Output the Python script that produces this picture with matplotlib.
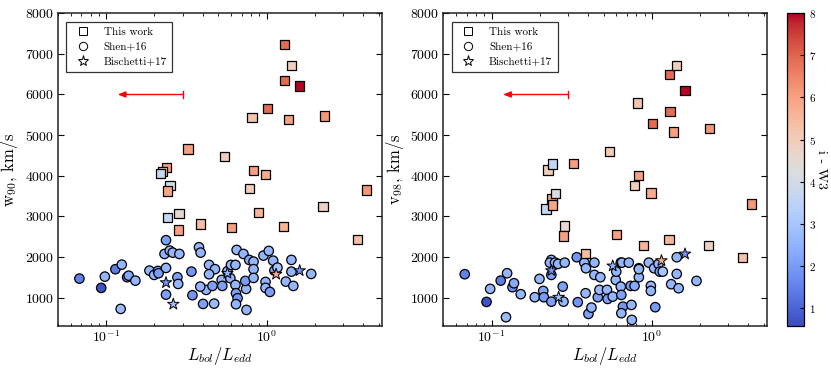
import matplotlib
matplotlib.use('Agg')
import matplotlib.pyplot as plt
from matplotlib.lines import Line2D

plt.rcParams['font.family'] = 'serif'
plt.rcParams['font.serif'] = ['cmr10']
plt.rcParams['mathtext.fontset'] = 'cm'
plt.rcParams['axes.unicode_minus'] = False
plt.rcParams['axes.formatter.use_mathtext'] = True

# This work (squares): L_bol/L_edd, w90, v98, i-W3
sq_x = [1.29, 1.43, 1.30, 1.61, 1.01, 0.81, 1.37, 2.30, 0.324, 0.546, 0.238, 0.225, 0.219, 0.826,
        0.986, 0.250, 0.78, 4.2, 0.240, 0.240, 0.285, 0.281, 0.386, 0.891, 2.25, 0.603, 1.28, 3.69]
sq_w90 = [7226, 6710, 6340, 6210, 5651, 5430, 5380, 5472, 4660, 4480, 4200, 4100, 4060, 4135,
          4027, 3756, 3692, 3650, 3626, 2978, 3077, 2666, 2814, 3101, 3240, 2723, 2747, 2437]
sq_v98 = [6498, 6710, 5587, 6094, 5282, 5791, 5078, 5159, 4298, 4603, 3446, 4143, 3183, 4002,
          3577, 3569, 3756, 3306, 3281, 4290, 2765, 2518, 2083, 2280, 2280, 2550, 2437, 1984]
sq_c = [6.9, 4.9, 6.9, 8.0, 6.9, 5.2, 6.0, 6.2, 6.0, 5.0, 6.1, 5.0, 3.7, 6.0,
        5.8, 4.1, 5.0, 6.2, 5.9, 3.7, 4.6, 6.0, 5.4, 5.6, 4.8, 6.0, 5.6, 5.3]

# Shen+16 (circles)
sh_x = [0.068, 0.093, 0.098, 0.114, 0.125, 0.123, 0.135, 0.138, 0.152, 0.186, 0.199, 0.210, 0.212,
        0.236, 0.236, 0.231, 0.249, 0.260, 0.286, 0.278, 0.281, 0.236, 0.340, 0.345, 0.379, 0.388,
        0.402, 0.420, 0.386, 0.438, 0.477, 0.438, 0.460, 0.471, 0.525, 0.530, 0.595, 0.570, 0.600,
        0.640, 0.651, 0.718, 0.640, 0.645, 0.660, 0.645, 0.750, 0.746, 0.737, 0.780, 0.830, 0.830,
        0.830, 0.957, 0.986, 0.986, 1.033, 1.05, 1.10, 1.12, 1.17, 1.32, 1.43, 1.43, 1.47, 1.90]
sh_w90 = [1468, 1239, 1517, 1699, 1812, 722, 1502, 1540, 1418, 1664, 1559, 1657, 1600,
          1731, 2413, 2075, 2157, 2107, 2075, 1502, 1337, 1074, 1640, 1059, 2240, 2107,
          845, 1190, 1271, 1805, 1700, 1576, 1288, 852, 1435, 1288, 1477, 1650, 1805,
          1805, 2174, 2075, 1312, 1108, 985, 838, 697, 1214, 1411, 1928, 1886, 1700,
          1485, 2034, 1386, 1240, 2149, 1140, 1910, 1664, 1738, 1394, 1928, 1640, 1288, 1583]
sh_v98 = [1576, 894, 1214, 1418, 1600, 518, 1256, 1354, 1084, 1010, 1460, 1165, 1010,
          1928, 1559, 1861, 1861, 1830, 1861, 1271, 900, 900, 1994, 887, 1861, 1723,
          599, 754, 1108, 1559, 1502, 1861, 1010, 1190, 1190, 968, 1435, 1025, 1640,
          1861, 1861, 1861, 1271, 1066, 778, 616, 451, 820, 1288, 1288, 1723, 1502,
          1700, 1861, 1288, 1165, 1723, 764, 1829, 1640, 1640, 1330, 1994, 1583, 1231, 1411]
sh_c = [1.5, 0.7, 2.6, 1.4, 2.6, 2.7, 1.8, 2.3, 2.6, 2.6, 2.6, 2.2, 2.0,
        2.6, 2.1, 2.5, 2.6, 2.6, 2.6, 2.1, 2.6, 2.1, 1.9, 1.9, 2.6, 2.6,
        2.1, 2.6, 2.6, 2.6, 2.6, 2.6, 2.1, 2.7, 2.6, 2.1, 2.6, 2.6, 2.6,
        2.6, 2.6, 2.6, 2.6, 2.1, 1.9, 2.6, 2.6, 2.6, 2.0, 2.3, 2.6, 2.6,
        2.6, 2.6, 2.6, 2.6, 2.6, 2.0, 2.6, 2.2, 3.0, 2.6, 2.6, 2.6, 2.6, 2.6]

# Bischetti+17 (stars)
st_x = [0.236, 0.262, 0.57, 1.148, 1.61]
st_w90 = [1369, 838, 1600, 1576, 1664]
st_v98 = [1664, 1010, 1780, 1910, 2075]
st_c = [1.9, 2.8, 2.6, 5.8, 1.9]

vmin, vmax = 0.57, 8.0
cmap = 'coolwarm'

fig = plt.figure(figsize=(8.31, 3.68), dpi=100)
ax1 = fig.add_axes([0.0698, 0.114, 0.3898, 0.850])
ax2 = fig.add_axes([0.5335, 0.114, 0.3898, 0.850])
cax = fig.add_axes([0.947, 0.114, 0.0205, 0.850])

panels = [(ax1, sh_w90, st_w90, sq_w90, r'w$_{90}$, km/s'),
          (ax2, sh_v98, st_v98, sq_v98, r'v$_{98}$, km/s')]

for ax, ysh, yst, ysq, ylab in panels:
    ax.scatter(sh_x, ysh, c=sh_c, cmap=cmap, vmin=vmin, vmax=vmax, marker='o', s=46,
               edgecolors='k', linewidths=0.9, zorder=3)
    ax.scatter(st_x, yst, c=st_c, cmap=cmap, vmin=vmin, vmax=vmax, marker='*', s=75,
               edgecolors='k', linewidths=0.7, zorder=4)
    sc = ax.scatter(sq_x, ysq, c=sq_c, cmap=cmap, vmin=vmin, vmax=vmax, marker='s', s=45,
                    edgecolors='k', linewidths=0.9, zorder=5)
    # upper limit arrow
    ax.annotate('', xy=(0.118, 6000), xytext=(0.3, 6000),
                arrowprops=dict(arrowstyle='-|>,head_length=0.45,head_width=0.18',
                                color='red', lw=1.0, shrinkA=0, shrinkB=0))
    ax.plot([0.3, 0.3], [5920, 6080], color='red', lw=1.0)

    ax.set_xscale('log')
    ax.set_xlim(0.05, 5.25)
    ax.set_ylim(300, 8000)
    ax.set_yticks([1000, 2000, 3000, 4000, 5000, 6000, 7000, 8000])
    ax.tick_params(which='both', direction='in', top=True, right=True, labelsize=10, pad=3)
    ax.tick_params(axis='x', pad=2.5)
    ax.tick_params(which='major', length=4, width=0.8)
    ax.tick_params(which='minor', length=2, width=0.6)
    for sp in ax.spines.values():
        sp.set_linewidth(1.1)
        sp.set_color('#222222')
    ax.set_xlabel(r'$L_{bol}/L_{edd}$', fontsize=12, labelpad=0)
    ax.set_ylabel(ylab, fontsize=12, labelpad=3)

    handles = [Line2D([], [], marker='s', ls='none', mfc='white', mec='k', ms=5.5, mew=0.7),
               Line2D([], [], marker='o', ls='none', mfc='white', mec='k', ms=6, mew=0.7),
               Line2D([], [], marker='*', ls='none', mfc='white', mec='k', ms=8, mew=0.7)]
    leg = ax.legend(handles, ['This work', 'Shen+16', 'Bischetti+17'], loc='upper left',
                    fontsize=8, frameon=True, fancybox=False, handlelength=2.0,
                    handletextpad=0.85, borderpad=0.5, labelspacing=0.45, borderaxespad=0.75)
    leg.get_frame().set_edgecolor('k')
    leg.get_frame().set_linewidth(0.9)

cb = fig.colorbar(sc, cax=cax)
cb.set_ticks([1, 2, 3, 4, 5, 6, 7, 8])
cb.ax.tick_params(labelsize=8, direction='in', length=3)
cb.set_label('i - W3', rotation=270, fontsize=10, labelpad=8)
cb.outline.set_linewidth(0.9)

fig.savefig('out.png', dpi=100)
